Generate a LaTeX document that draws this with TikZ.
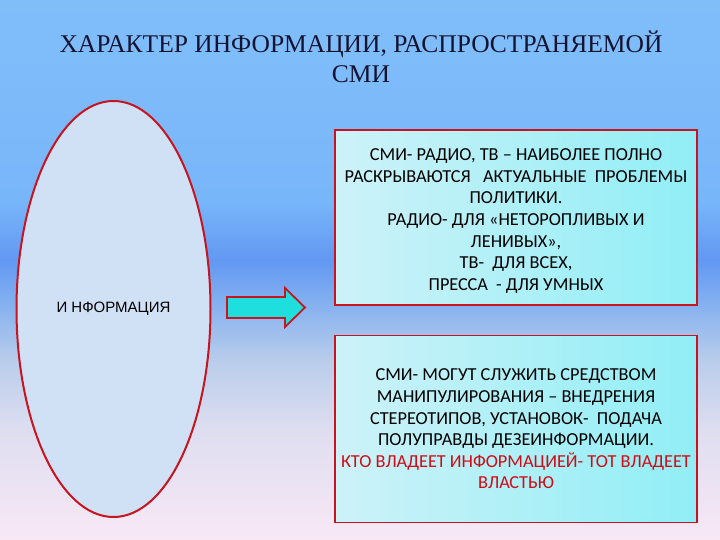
\documentclass[tikz,border=0pt]{standalone}
\usepackage{fontspec}
\setmainfont{Liberation Serif}
\newfontfamily\carl{Carlito}
\newfontfamily\arl{Liberation Sans}
\usetikzlibrary{shapes.geometric}
\definecolor{bgA}{RGB}{128,190,250}
\definecolor{bgB}{RGB}{120,182,250}
\definecolor{bgC}{RGB}{98,152,242}
\definecolor{bgD}{RGB}{130,175,240}
\definecolor{bgE}{RGB}{185,205,235}
\definecolor{bgF}{RGB}{222,222,240}
\definecolor{bgG}{RGB}{248,232,246}
\definecolor{ellfill}{RGB}{208,224,245}
\definecolor{frame}{RGB}{200,20,30}
\definecolor{boxL}{RGB}{205,242,248}
\definecolor{boxR}{RGB}{145,238,246}
\definecolor{arrfill}{RGB}{30,222,222}
\definecolor{ttl}{RGB}{20,20,50}
\definecolor{redtxt}{RGB}{210,10,20}
\tikzset{
  infobox/.style={draw=frame, line width=1.6pt, left color=boxL, right color=boxR,
    minimum width=362pt, inner sep=0pt},
  boxtext/.style={align=center, font=\carl\fontsize{18.3}{21.6}\selectfont, text=black, inner sep=0pt}
}
\begin{document}
\begin{tikzpicture}[x=1pt,y=-1pt]
\useasboundingbox (0,0) rectangle (720,540);
% background bands
\fill[top color=bgA,bottom color=bgB] (0,0) rectangle (720,200.5);
\fill[top color=bgB,bottom color=bgC] (0,200) rectangle (720,260.5);
\fill[top color=bgC,bottom color=bgD] (0,260) rectangle (720,300.5);
\fill[top color=bgD,bottom color=bgE] (0,300) rectangle (720,360.5);
\fill[top color=bgE,bottom color=bgF] (0,360) rectangle (720,430.5);
\fill[top color=bgF,bottom color=bgG] (0,430) rectangle (720,540);
% title
\node[anchor=base, font=\fontsize{25.5}{30}\selectfont, text=ttl, inner sep=0pt] (title1) at (361,53) {ХАРАКТЕР ИНФОРМАЦИИ, РАСПРОСТРАНЯЕМОЙ};
\node[anchor=base, font=\fontsize{25.5}{30}\selectfont, text=ttl, inner sep=0pt] (title2) at (361,83) {СМИ};
% ellipse
\node[ellipse, draw=frame, line width=2pt, fill=ellfill, minimum width=194pt, minimum height=416pt, inner sep=0pt,
  font=\arl\fontsize{15}{18}\selectfont] (info) at (113.5,309) {И НФОРМАЦИЯ};
% arrow
\draw[draw=frame, line width=1.8pt, fill=arrfill, line join=miter]
  (227,297) -- (285,297) -- (285,288) -- (305,307.5) -- (285,327) -- (285,318) -- (227,318) -- cycle;
% boxes
\node[infobox, minimum height=175pt] (box1) at (516,217.5) {};
\node[boxtext] (t1) at (516,221) {СМИ- РАДИО, ТВ – НАИБОЛЕЕ ПОЛНО\\РАСКРЫВАЮТСЯ \ \ АКТУАЛЬНЫЕ \ ПРОБЛЕМЫ\\ПОЛИТИКИ.\\РАДИО- ДЛЯ «НЕТОРОПЛИВЫХ И\\ЛЕНИВЫХ»,\\ТВ- \ ДЛЯ ВСЕХ,\\ПРЕССА \ - ДЛЯ УМНЫХ};
\node[infobox, minimum height=187pt] (box2) at (516,429) {};
\node[boxtext] (t2) at (516,429) {СМИ- МОГУТ СЛУЖИТЬ СРЕДСТВОМ\\МАНИПУЛИРОВАНИЯ – ВНЕДРЕНИЯ\\СТЕРЕОТИПОВ, УСТАНОВОК- \ ПОДАЧА\\ПОЛУПРАВДЫ ДЕЗЕИНФОРМАЦИИ.\\\textcolor{redtxt}{КТО ВЛАДЕЕТ ИНФОРМАЦИЕЙ- ТОТ ВЛАДЕЕТ}\\\textcolor{redtxt}{ВЛАСТЬЮ}};
\end{tikzpicture}
\end{document}
